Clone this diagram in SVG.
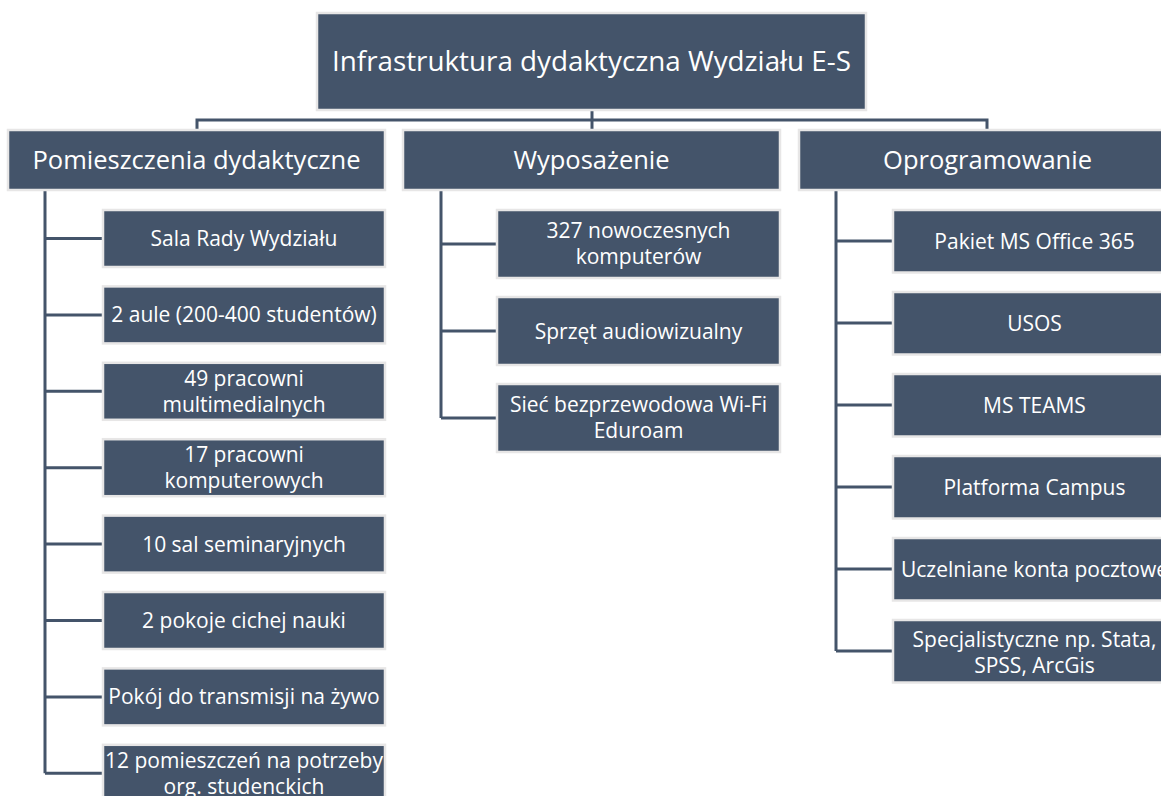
<svg xmlns="http://www.w3.org/2000/svg" width="1161" height="796" viewBox="0 0 1161 796">
<style>
.box{fill:#44546A;stroke:#E7E6E6;stroke-width:2.5}
.t{fill:#FFFFFF;font-family:"Open Sans","Liberation Sans",sans-serif;text-anchor:middle}
.root{font-size:27.8px}
.l2{font-size:25.5px}
.c{font-size:21px}
.con{stroke:#44546A;stroke-width:3;fill:none}
</style>
<rect x="0" y="0" width="1161" height="796" fill="#FFFFFF"/>
<g id="connectors">
<path class="con" d="M197 129 V120 H987 V129"/>
<path class="con" d="M592 110 V129"/>
<path class="con" d="M45 190 V773.3 M45 238.5 H103 M45 314.9 H103 M45 391.3 H103 M45 467.7 H103 M45 544.1 H103 M45 620.5 H103 M45 696.9 H103 M45 773.3 H103"/>
<path class="con" d="M441 190 V418 M441 244 H497 M441 331 H497 M441 418 H497"/>
<path class="con" d="M836 190 V651 M836 241 H893 M836 323 H893 M836 405 H893 M836 487 H893 M836 569 H893 M836 651 H893"/>
</g>
<g id="root"><rect class="box" x="317" y="13" width="549" height="97"/><text class="t root" x="591.5" y="71">Infrastruktura dydaktyczna Wydziału E-S</text></g>
<g id="pomieszczenia"><rect class="box" x="8" y="130" width="377" height="60"/><text class="t l2" x="196.5" y="169">Pomieszczenia dydaktyczne</text></g>
<g id="wyposazenie"><rect class="box" x="403" y="130" width="377" height="60"/><text class="t l2" x="591.5" y="169">Wyposażenie</text></g>
<g id="oprogramowanie"><rect class="box" x="799" y="130" width="377" height="60"/><text class="t l2" x="987.5" y="169">Oprogramowanie</text></g>

<g id="sala-rady"><rect class="box" x="103" y="210" width="282" height="57"/><text class="t c" x="244" y="246">Sala Rady Wydziału</text></g>
<g id="aule"><rect class="box" x="103" y="286.4" width="282" height="57"/><text class="t c" x="244" y="322.4">2 aule (200-400 studentów)</text></g>
<g id="pracownie-multimedialne"><rect class="box" x="103" y="362.8" width="282" height="57"/><text class="t c" x="244" y="386"><tspan x="244">49 pracowni</tspan><tspan x="244" dy="26">multimedialnych</tspan></text></g>
<g id="pracownie-komputerowe"><rect class="box" x="103" y="439.2" width="282" height="57"/><text class="t c" x="244" y="462.4"><tspan x="244">17 pracowni</tspan><tspan x="244" dy="26">komputerowych</tspan></text></g>
<g id="sale-seminaryjne"><rect class="box" x="103" y="515.6" width="282" height="57"/><text class="t c" x="244" y="551.6">10 sal seminaryjnych</text></g>
<g id="pokoje-cichej-nauki"><rect class="box" x="103" y="592" width="282" height="57"/><text class="t c" x="244" y="628">2 pokoje cichej nauki</text></g>
<g id="pokoj-transmisji"><rect class="box" x="103" y="668.4" width="282" height="57"/><text class="t c" x="244" y="704.4">Pokój do transmisji na żywo</text></g>
<g id="pomieszczenia-org"><rect class="box" x="103" y="744.8" width="282" height="57"/><text class="t c" x="244" y="768"><tspan x="244">12 pomieszczeń na potrzeby</tspan><tspan x="244" dy="26">org. studenckich</tspan></text></g>

<g id="komputery"><rect class="box" x="497" y="210" width="283" height="68"/><text class="t c" x="638.5" y="238"><tspan x="638.5">327 nowoczesnych</tspan><tspan x="638.5" dy="26">komputerów</tspan></text></g>
<g id="sprzet"><rect class="box" x="497" y="297" width="283" height="68"/><text class="t c" x="638.5" y="338.5">Sprzęt audiowizualny</text></g>
<g id="wifi"><rect class="box" x="497" y="384" width="283" height="68"/><text class="t c" x="638.5" y="412"><tspan x="638.5">Sieć bezprzewodowa Wi-Fi</tspan><tspan x="638.5" dy="26">Eduroam</tspan></text></g>

<g id="ms-office"><rect class="box" x="893" y="210" width="283" height="62.5"/><text class="t c" x="1034.5" y="248.5">Pakiet MS Office 365</text></g>
<g id="usos"><rect class="box" x="893" y="292" width="283" height="62.5"/><text class="t c" x="1034.5" y="330.5">USOS</text></g>
<g id="ms-teams"><rect class="box" x="893" y="374" width="283" height="62.5"/><text class="t c" x="1034.5" y="412.5">MS TEAMS</text></g>
<g id="campus"><rect class="box" x="893" y="456" width="283" height="62.5"/><text class="t c" x="1034.5" y="494.5">Platforma Campus</text></g>
<g id="konta"><rect class="box" x="893" y="538" width="283" height="62.5"/><text class="t c" x="1034.5" y="576.5">Uczelniane konta pocztowe</text></g>
<g id="specjalistyczne"><rect class="box" x="893" y="620" width="283" height="62.5"/><text class="t c" x="1034.5" y="646.5"><tspan x="1034.5">Specjalistyczne np. Stata,</tspan><tspan x="1034.5" dy="26">SPSS, ArcGis</tspan></text></g>
</svg>
